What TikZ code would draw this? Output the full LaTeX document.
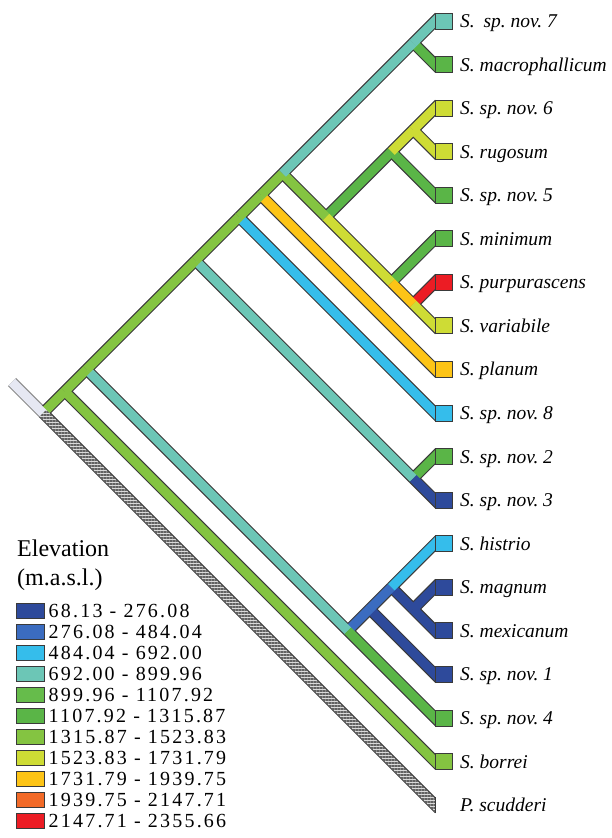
\documentclass[tikz,border=0pt]{standalone}
\usepackage{fontspec}
\setmainfont{Liberation Serif}
\newfontfamily\legfont[LetterSpace=11]{Liberation Serif}
\usetikzlibrary{calc,patterns.meta}
\frenchspacing
\definecolor{bD}{HTML}{2E4A9B}
\definecolor{bM}{HTML}{3B6CC0}
\definecolor{bC}{HTML}{35BDEB}
\definecolor{tl}{HTML}{6CC6B6}
\definecolor{gF}{HTML}{66BC4B}
\definecolor{gB}{HTML}{5AB547}
\definecolor{gY}{HTML}{84C441}
\definecolor{lm}{HTML}{CEDC35}
\definecolor{am}{HTML}{FDC416}
\definecolor{orng}{HTML}{F26A28}
\definecolor{rd}{HTML}{EC1C24}
\definecolor{lav}{HTML}{E6E8F3}
\definecolor{outc}{HTML}{3A3A3A}
\newcommand\nd[3]{\coordinate (#1) at ({435-(#3-#2)*21.78},{21+(#2+#3)*21.78});}
\newcommand\segs{%
\sg{1}{R}{I}{gY}%
\sg{2}{I}{e17}{gY}%
\sg{1}{I}{J}{gY}%
\sg{2}{J}{H}{tl}%
\sg{2}{H}{e16}{gB}%
\sg{3}{H}{K}{bM}%
\sg{4}{K}{e15}{bD}%
\sg{3}{K}{L}{bM}%
\sg{3}{L}{e12}{bC}%
\sg{4}{L}{M}{bD}%
\sg{4}{M}{e14}{bD}%
\sg{5}{M}{e13}{bD}%
\sg{1}{J}{U}{gY}%
\sg{2}{U}{N}{tl}%
\sg{2}{N}{e11}{bD}%
\sg{3}{N}{e10}{gB}%
\sg{1}{U}{V}{gY}%
\sg{2}{V}{e9}{bC}%
\sg{1}{V}{W}{gY}%
\sg{2}{W}{e8}{am}%
\sg{1}{W}{X}{gY}%
\sg{1}{X}{A}{tl}%
\sg{1}{A}{e0}{tl}%
\sg{2}{A}{e1}{gB}%
\sg{2}{X}{B}{gY}%
\sg{2}{B}{E}{lm}%
\sg{3}{B}{C}{gB}%
\sg{3}{C}{D}{lm}%
\sg{4}{C}{e4}{gB}%
\sg{3}{D}{e2}{lm}%
\sg{4}{D}{e3}{lm}%
\sg{2}{E}{F}{am}%
\sg{3}{E}{e5}{gB}%
\sg{2}{F}{e7}{lm}%
\sg{3}{F}{e6}{rd}%
}
\begin{document}
\begin{tikzpicture}[x=1pt,y=-1pt,
  outl/.style={line width=11.5pt, draw=outc},
  band/.style={line width=9.2pt},
  tipbox/.style={rectangle, draw=outc, line width=0.9pt, minimum width=17pt, minimum height=16pt, inner sep=0pt},
  lab/.style={anchor=base west, inner sep=0pt, font=\fontsize{19.5}{22}\selectfont\itshape},
  legbox/.style={rectangle, draw=outc, line width=0.9pt, minimum width=28pt, minimum height=15.5pt, inner sep=0pt},
  legtxt/.style={anchor=base west, inner sep=0pt, font=\fontsize{20}{22}\legfont},
  head/.style={anchor=base west, inner sep=0pt, font=\fontsize{24}{26}\selectfont}]
\useasboundingbox (0,0) rectangle (612,838);
% tips
\foreach \i/\d in {0/-1,1/1,2/-1,3/1,4/1,5/-1,6/-1,7/1,8/1,9/1,10/-1,11/1,12/-1,13/-1,14/1,15/1,16/1,17/1,18/1} {
  \coordinate (t\i) at (435, {21+43.56*\i});
  \coordinate (e\i) at (445, {21+43.56*\i+10*\d});
}
\nd{R}{0}{18}\nd{I}{0}{17}\nd{J}{0}{16}\nd{U}{0}{11}\nd{V}{0}{9}\nd{W}{0}{8}
\nd{X}{0}{7}\nd{A}{0}{1}\nd{B}{2}{7}\nd{C}{2}{4}\nd{D}{2}{3}\nd{E}{5}{7}
\nd{F}{6}{7}\nd{N}{10}{11}\nd{H}{12}{16}\nd{K}{12}{15}\nd{L}{12}{14}\nd{M}{13}{14}
\coordinate (rs) at ($(R)+(-31,-31)$);
\begin{scope}
\clip (0,0) rectangle (435,838);
% outlines
\draw[line width=11.5pt, draw=black!45] (rs) -- (R);
\draw[outl] (R) -- (e18);
\def\sg#1#2#3#4{\draw[outl] (#2) -- (#3);}
\segs
% fills
\foreach \lvl in {5,4,3,2,1} {%
  \def\sg##1##2##3##4{\ifnum##1=\lvl\relax\draw[band, draw=##4] (##2) -- (##3);\fi}%
  \segs
}
% root stem and outgroup
\draw[band, draw=lav] (rs) -- (R);
\fill[black!15] ($(R)+(3.25,-3.25)$) -- ($(e18)+(3.25,-3.25)$) -- ($(e18)+(-3.25,3.25)$) -- ($(R)+(-3.25,3.25)$) -- cycle;
\fill[pattern={Lines[angle=0,distance=3pt,line width=1.4pt]}, pattern color=black!62] ($(R)+(3.25,-3.25)$) -- ($(e18)+(3.25,-3.25)$) -- ($(e18)+(-3.25,3.25)$) -- ($(R)+(-3.25,3.25)$) -- cycle;
\end{scope}
\draw[outc, line width=1pt] ($(t18)+(0,-8)$) -- ($(t18)+(0,8)$);
% tip boxes
\foreach \i/\c in {0/tl,1/gB,2/lm,3/lm,4/gB,5/gB,6/rd,7/lm,8/am,9/bC,10/gB,11/bD,12/bC,13/bD,14/bD,15/bD,16/gB,17/gY} {
  \node[tipbox, fill=\c] (s\i) at (443.5, {21+43.56*\i}) {};
}
% labels
\foreach \i/\t in {0/{S.\hspace{0.45em}sp. nov. 7},1/{S. macrophallicum},2/{S. sp. nov. 6},3/{S. rugosum},4/{S. sp. nov. 5},5/{S. minimum},6/{S. purpurascens},7/{S. variabile},8/{S. planum},9/{S. sp. nov. 8},10/{S. sp. nov. 2},11/{S. sp. nov. 3},12/{S. histrio},13/{S. magnum},14/{S. mexicanum},15/{S. sp. nov. 1},16/{S. sp. nov. 4},17/{S. borrei},18/{P. scudderi}} {
  \node[lab] (l\i) at (460, {21+43.56*\i+6.5}) {\t};
}
% legend
\node[head] (h1) at (17,556) {Elevation};
\node[head] (h2) at (17,585) {(m.a.s.l.)};
\foreach \i/\c/\t in {0/bD/{68.13 - 276.08},1/bM/{276.08 - 484.04},2/bC/{484.04 - 692.00},3/tl/{692.00 - 899.96},4/gF/{899.96 - 1107.92},5/gB/{1107.92 - 1315.87},6/gY/{1315.87 - 1523.83},7/lm/{1523.83 - 1731.79},8/am/{1731.79 - 1939.75},9/orng/{1939.75 - 2147.71},10/rd/{2147.71 - 2355.66}} {
  \node[legbox, fill=\c] (k\i) at (30, {611+21*\i}) {};
  \node[legtxt] (kt\i) at (48.5, {611+21*\i+6.5}) {\t};
}
\end{tikzpicture}
\end{document}
